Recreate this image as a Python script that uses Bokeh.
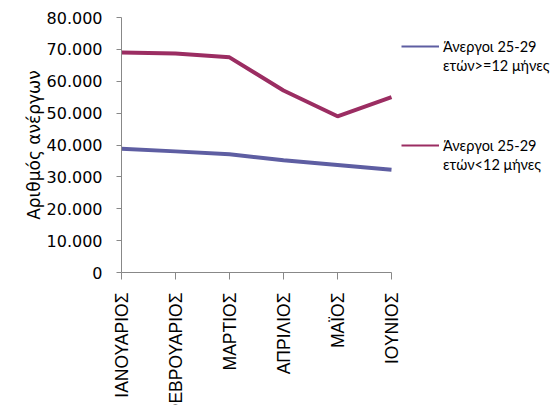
import math
import numpy as np
from bokeh.plotting import figure
from bokeh.models import Legend, LegendItem, FixedTicker, Range1d, CustomJSTickFormatter, Title
from bokeh.embed import file_html
from bokeh.resources import INLINE

months = ["ΙΑΝΟΥΑΡΙΟΣ", "ΦΕΒΡΟΥΑΡΙΟΣ", "ΜΑΡΤΙΟΣ", "ΑΠΡΙΛΙΟΣ", "ΜΑΪΟΣ", "ΙΟΥΝΙΟΣ"]
long_term = [38800, 38000, 37100, 35200, 33700, 32200]
short_term = [69000, 68700, 67500, 57100, 49000, 55000]
y_ticks = [0, 10000, 20000, 30000, 40000, 50000, 60000, 70000, 80000]
series_names = [["Άνεργοι 25-29", "ετών>=12 μήνες"], ["Άνεργοι 25-29", "ετών<12 μήνες"]]
y_label = "Αριθμός ανέργων"
colors = ["#5E5EA2", "#9B2D62"]

x = list(range(len(months)))
n = len(months) - 1
W, H = 558, 405
frame_w = W - 121
x_end = n * frame_w / 270.0

p = figure(width=W, height=H, output_backend="svg", toolbar_location=None,
           x_range=Range1d(0, x_end), y_range=Range1d(0, 80000),
           min_border_left=121, min_border_top=17, min_border_right=0, min_border_bottom=H - 17 - 255,
           frame_width=frame_w, frame_height=255)
p.outline_line_color = None
p.grid.grid_line_color = None
p.background_fill_color = "white"

r1 = p.line(x, long_term, line_color=colors[0], line_width=4)
r2 = p.line(x, short_term, line_color=colors[1], line_width=4)
# thin legend swatches (proxy renderers that draw nothing on the plot)
nan_pt = np.array([np.nan])
zero_pt = np.array([0.0])
k1 = p.line(zero_pt, nan_pt, line_color=colors[0], line_width=2)
k2 = p.line(zero_pt, nan_pt, line_color=colors[1], line_width=2)
blank = p.line(zero_pt, nan_pt, line_alpha=0)

p.xaxis.ticker = FixedTicker(ticks=x)
p.xaxis.bounds = (0, n)
p.xaxis.major_label_overrides = {i: m for i, m in enumerate(months)}
p.xaxis.major_label_orientation = math.pi / 2
p.xaxis.major_label_text_font = "Liberation Sans"
p.xaxis.major_label_text_font_size = "17.5px"
p.xaxis.major_label_text_color = "black"
p.xaxis.major_label_standoff = 13
p.xaxis.major_tick_out = 7

p.yaxis.ticker = FixedTicker(ticks=y_ticks)
p.yaxis.formatter = CustomJSTickFormatter(code="""
    return tick === 0 ? '0' : (tick/1000).toFixed(0) + '.000';
""")
p.yaxis.major_label_text_font = "DejaVu Sans"
p.yaxis.major_label_text_font_size = "16px"
p.yaxis.major_label_text_color = "black"
p.yaxis.major_label_standoff = 14
p.yaxis.major_tick_out = 5

for ax in (p.xaxis, p.yaxis):
    ax.axis_line_color = "#888888"
    ax.major_tick_line_color = "#888888"
    ax.major_tick_in = 0
    ax.minor_tick_line_color = None

t = Title(text=y_label, align="center", offset=32, text_font="DejaVu Sans",
          text_font_style="normal", text_font_size="17px", text_color="black",
          standoff=0)
p.add_layout(t, "left")

for r, names, loc in ((k1, series_names[0], (280, 198)), (k2, series_names[1], (280, 99))):
    lg = Legend(items=[LegendItem(label=names[0], renderers=[r], index=0),
                       LegendItem(label=names[1], renderers=[blank], index=0)],
                location=loc, orientation="vertical",
                glyph_width=38, glyph_height=18, label_height=18,
                label_standoff=4, spacing=1,
                label_text_font="Lato", label_text_font_size="14.5px",
                label_text_color="black",
                border_line_color=None, background_fill_alpha=0,
                padding=0, margin=0)
    p.add_layout(lg, "center")

open("out.html", "w").write(file_html(p, INLINE))
